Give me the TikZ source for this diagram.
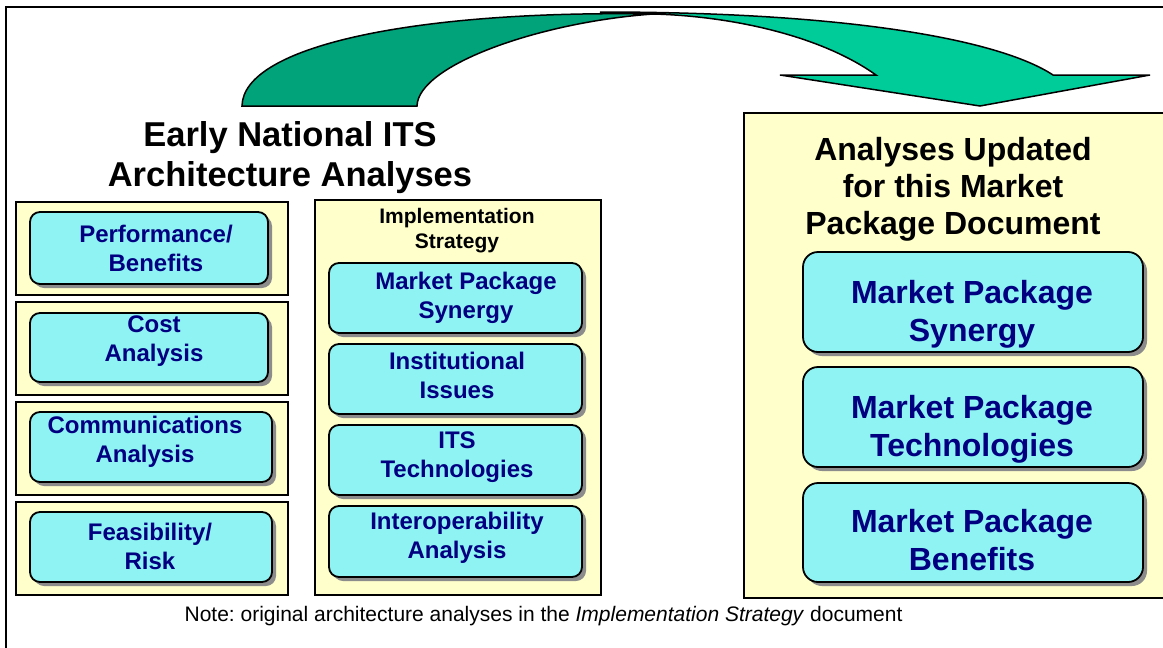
\documentclass[tikz,border=0pt]{standalone}
\usepackage{fontspec}
\setmainfont{Liberation Sans}
\usetikzlibrary{shadows}
\definecolor{padyellow}{RGB}{255,255,204}
\definecolor{padcyan}{RGB}{143,243,243}
\definecolor{padblue}{RGB}{0,0,128}
\definecolor{arrowdark}{RGB}{0,163,122}
\definecolor{arrowlight}{RGB}{0,204,153}
\frenchspacing
\begin{document}
\begin{tikzpicture}[x=1pt,y=-1pt,
    padbox/.style={draw=black,line width=1.3pt,fill=padyellow,inner sep=0pt},
    anbox/.style={draw=black,line width=1.8pt,fill=padcyan,rounded corners=10pt,inner sep=0pt,
        drop shadow={shadow xshift=4pt,shadow yshift=-4pt,fill=black!45,opacity=1}},
    anboxbig/.style={anbox,rounded corners=15pt,minimum width=340pt,minimum height=100pt},
    smalltxt/.style={text=padblue,align=center,font=\fontsize{24}{29}\selectfont\bfseries},
    bigtxt/.style={text=padblue,align=center,font=\fontsize{32}{38}\selectfont\bfseries},
    headtxt/.style={align=center,font=\fontsize{34.5}{40}\selectfont\bfseries},
    ribbon/.style={draw=black,line width=1.5pt,line join=miter}]
\useasboundingbox (0,0) rectangle (1163,648);
% \draw[color=gray,step=50pt,opacity=0.3] (0,0) grid (1163,648); %help grid
\draw[line width=2pt] (6,648) -- (6,7) -- (1163,7);

% curved arrow
\path[ribbon,fill=arrowlight] (600,12) .. controls (850,12) and (1000,40) .. (1053,75)
    -- (1150,75) -- (980,106) -- (780,75) -- (876,75)
    .. controls (820,35) and (730,16) .. (653,14) -- cycle;
\path[ribbon,fill=arrowdark] (242,106) .. controls (243,45) and (420,10) .. (653,14)
    .. controls (540,22) and (418,65) .. (417,106) -- cycle;

% left column
\node[headtxt] (early) at (290,158) {Early National ITS\\Architecture Analyses};
\node[padbox,minimum width=272pt,minimum height=93pt] (perfpad) at (152,248.5) {};
\node[padbox,minimum width=272pt,minimum height=93pt] (costpad) at (152,348.5) {};
\node[padbox,minimum width=272pt,minimum height=93pt] (commpad) at (152,448.5) {};
\node[padbox,minimum width=272pt,minimum height=93pt] (feaspad) at (152,548.5) {};
\node[anbox,minimum width=238pt,minimum height=72pt] (perf) at (149,248) {};
\node[anbox,minimum width=238pt,minimum height=69pt] (cost) at (149,347.5) {};
\node[anbox,minimum width=242pt,minimum height=70pt] (comm) at (151,447) {};
\node[anbox,minimum width=242pt,minimum height=70pt] (feas) at (151,547) {};
\node[smalltxt] (perftxt) at (156,248) {Performance/\\Benefits};
\node[smalltxt] (costtxt) at (154,341.5) {Cost\\Analysis};
\node[smalltxt] (commtxt) at (145,442) {Communications\\Analysis};
\node[smalltxt] (feastxt) at (150,546.5) {Feasibility/\\Risk};

% implementation strategy
\node[padbox,minimum width=286pt,minimum height=395pt] (implpad) at (458,397.5) {};
\node[align=center,font=\fontsize{21}{25}\selectfont\bfseries] (impltxt) at (457,231) {Implementation\\Strategy};
\node[anbox,minimum width=253pt,minimum height=70pt] (syn) at (455.5,298) {};
\node[anbox,minimum width=253pt,minimum height=70pt] (inst) at (455.5,379) {};
\node[anbox,minimum width=253pt,minimum height=70pt] (tech) at (455.5,460) {};
\node[anbox,minimum width=253pt,minimum height=71pt] (interop) at (455.5,541.5) {};
\node[smalltxt] (syntxt) at (466,298) {Market Package\\Synergy};
\node[smalltxt] (insttxt) at (457,375.5) {Institutional\\Issues};
\node[smalltxt] (techtxt) at (457,457) {ITS\\Technologies};
\node[smalltxt] (interoptxt) at (457,537.5) {Interoperability\\Analysis};

% updated analyses
\fill[padyellow] (744,113) rectangle (1163,598);
\draw[line width=1.3pt] (1163,113) -- (744,113) -- (744,598) -- (1163,598);
\node[headtxt,font=\fontsize{32}{37}\selectfont\bfseries] (updtxt) at (953,189) {Analyses Updated\\for this Market\\Package Document};
\node[anboxbig] (msyn) at (973,302) {};
\node[anboxbig] (mtech) at (973,417) {};
\node[anboxbig,minimum height=99pt] (mben) at (973,532.5) {};
\node[bigtxt] (msyntxt) at (972,314) {Market Package\\Synergy};
\node[bigtxt] (mtechtxt) at (972,429) {Market Package\\Technologies};
\node[bigtxt] (mbentxt) at (972,540) {Market Package\\Benefits};

\node[font=\fontsize{21}{25}\selectfont] (note) at (543.5,616) {Note: original architecture analyses in the \textit{Implementation Strategy} document};
\end{tikzpicture}
\end{document}
